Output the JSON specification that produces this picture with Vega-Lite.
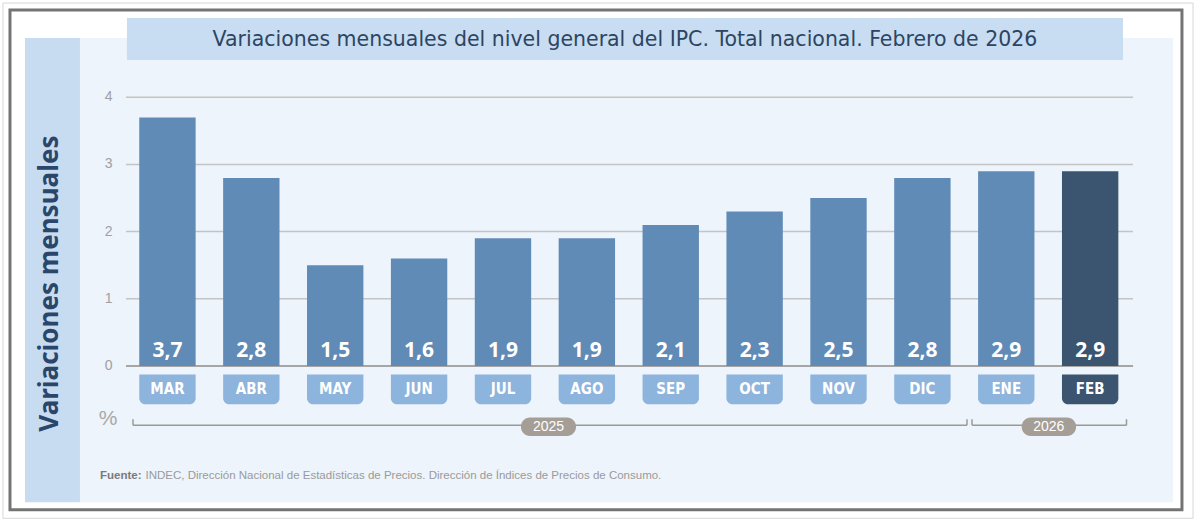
{
  "$schema": "https://vega.github.io/schema/vega-lite/v6.json",
  "description": "Variaciones mensuales del IPC, total nacional, marzo 2025 - febrero 2026",
  "width": 1200,
  "height": 526,
  "autosize": "none",
  "padding": 0,
  "background": "white",
  "resolve": {"scale": {"x": "independent"}},
  "layer": [
    {
      "data": {"values": [{}]},
      "layer": [
        {
          "mark": {"type": "rect", "fill": "white", "stroke": "#D6D6D6", "strokeWidth": 1},
          "encoding": {
            "x": {"datum": -1.9607, "type": "quantitative", "scale": {"domain": [-1.996, 12.306], "nice": false, "zero": false}, "axis": null},
            "x2": {"datum": 12.223},
            "y": {"datum": 5.405, "type": "quantitative", "scale": {"domain": [-2.385, 5.45], "nice": false, "zero": false}, "axis": null},
            "y2": {"datum": -2.27}
          }
        },
        {
          "mark": {"type": "rect", "fill": "white", "stroke": "#747474", "strokeWidth": 3},
          "encoding": {
            "x": {"datum": -1.877, "type": "quantitative"},
            "x2": {"datum": 12.091},
            "y": {"datum": 5.301, "type": "quantitative"},
            "y2": {"datum": -2.143}
          }
        },
        {
          "mark": {"type": "rect", "fill": "#EDF4FB"},
          "encoding": {
            "x": {"datum": -1.043, "type": "quantitative"},
            "x2": {"datum": 11.985},
            "y": {"datum": 4.884, "type": "quantitative"},
            "y2": {"datum": -2.031}
          }
        },
        {
          "mark": {"type": "rect", "fill": "#C7DCF0"},
          "encoding": {
            "x": {"datum": -1.698, "type": "quantitative"},
            "x2": {"datum": -1.043},
            "y": {"datum": 4.884, "type": "quantitative"},
            "y2": {"datum": -2.031}
          }
        },
        {
          "mark": {"type": "rect", "fill": "#C8DDF1"},
          "encoding": {
            "x": {"datum": -0.483, "type": "quantitative"},
            "x2": {"datum": 11.388},
            "y": {"datum": 5.182, "type": "quantitative"},
            "y2": {"datum": 4.556}
          }
        },
        {
          "mark": {"type": "text", "text": "Variaciones mensuales del nivel general del IPC. Total nacional. Febrero de 2026", "font": "DejaVu Sans", "fontSize": 20.5, "color": "#2D4563", "align": "center", "baseline": "middle"},
          "encoding": {
            "x": {"datum": 5.453, "type": "quantitative"},
            "y": {"datum": 4.861, "type": "quantitative"}
          }
        },
        {
          "mark": {"type": "text", "text": "Variaciones mensuales", "angle": 270, "font": "Noto Sans", "fontWeight": "bold", "fontSize": 26, "color": "#2A466A", "align": "center", "baseline": "middle"},
          "encoding": {
            "x": {"datum": -1.4, "type": "quantitative"},
            "y": {"datum": 1.225, "type": "quantitative"}
          }
        },
        {
          "data": {"values": [{"tick": 0}, {"tick": 1}, {"tick": 2}, {"tick": 3}, {"tick": 4}]},
          "mark": {"type": "rule", "stroke": "#C4C4C4", "strokeWidth": 1.5},
          "encoding": {
            "x": {"datum": -0.4946, "type": "quantitative"},
            "x2": {"datum": 11.508},
            "y": {"field": "tick", "type": "quantitative"}
          }
        },
        {
          "data": {"values": [{"tick": 0}, {"tick": 1}, {"tick": 2}, {"tick": 3}, {"tick": 4}]},
          "mark": {"type": "text", "font": "Liberation Sans", "fontSize": 14, "color": "#A0A0A0", "align": "right", "baseline": "middle"},
          "encoding": {
            "x": {"datum": -0.6555, "type": "quantitative"},
            "y": {"field": "tick", "type": "quantitative"},
            "text": {"field": "tick", "type": "quantitative"}
          }
        },
        {
          "mark": {"type": "rule", "stroke": "#A6A6A6", "strokeWidth": 2},
          "encoding": {
            "x": {"datum": -0.4946, "type": "quantitative"},
            "x2": {"datum": 11.508},
            "y": {"datum": 0, "type": "quantitative"}
          }
        },
        {
          "mark": {"type": "text", "text": "%", "font": "Liberation Sans", "fontSize": 21, "color": "#A8A8A8", "align": "center", "baseline": "middle"},
          "encoding": {
            "x": {"datum": -0.709, "type": "quantitative"},
            "y": {"datum": -0.794, "type": "quantitative"}
          }
        },
        {
          "mark": {"type": "rule", "stroke": "#9A9A9A", "strokeWidth": 1.5},
          "encoding": {
            "x": {"datum": -0.411, "type": "quantitative"},
            "x2": {"datum": 9.529},
            "y": {"datum": -0.884, "type": "quantitative"}
          }
        },
        {
          "mark": {"type": "rule", "stroke": "#9A9A9A", "strokeWidth": 1.5},
          "encoding": {
            "x": {"datum": -0.411, "type": "quantitative"},
            "y": {"datum": -0.884, "type": "quantitative"},
            "y2": {"datum": -0.794}
          }
        },
        {
          "mark": {"type": "rule", "stroke": "#9A9A9A", "strokeWidth": 1.5},
          "encoding": {
            "x": {"datum": 9.529, "type": "quantitative"},
            "y": {"datum": -0.884, "type": "quantitative"},
            "y2": {"datum": -0.794}
          }
        },
        {
          "mark": {"type": "rule", "stroke": "#9A9A9A", "strokeWidth": 1.5},
          "encoding": {
            "x": {"datum": 9.589, "type": "quantitative"},
            "x2": {"datum": 11.43},
            "y": {"datum": -0.884, "type": "quantitative"}
          }
        },
        {
          "mark": {"type": "rule", "stroke": "#9A9A9A", "strokeWidth": 1.5},
          "encoding": {
            "x": {"datum": 9.589, "type": "quantitative"},
            "y": {"datum": -0.884, "type": "quantitative"},
            "y2": {"datum": -0.794}
          }
        },
        {
          "mark": {"type": "rule", "stroke": "#9A9A9A", "strokeWidth": 1.5},
          "encoding": {
            "x": {"datum": 11.43, "type": "quantitative"},
            "y": {"datum": -0.884, "type": "quantitative"},
            "y2": {"datum": -0.794}
          }
        },
        {
          "mark": {"type": "rect", "fill": "#A59E97", "cornerRadius": 9},
          "encoding": {
            "x": {"datum": 4.213, "type": "quantitative"},
            "x2": {"datum": 4.869},
            "y": {"datum": -0.769, "type": "quantitative"},
            "y2": {"datum": -1.043}
          }
        },
        {
          "mark": {"type": "rect", "fill": "#A59E97", "cornerRadius": 9},
          "encoding": {
            "x": {"datum": 10.181, "type": "quantitative"},
            "x2": {"datum": 10.829},
            "y": {"datum": -0.769, "type": "quantitative"},
            "y2": {"datum": -1.043}
          }
        },
        {
          "mark": {"type": "text", "text": "2025", "font": "Liberation Sans", "fontSize": 14, "color": "white", "align": "center", "baseline": "middle"},
          "encoding": {
            "x": {"datum": 4.541, "type": "quantitative"},
            "y": {"datum": -0.906, "type": "quantitative"}
          }
        },
        {
          "mark": {"type": "text", "text": "2026", "font": "Liberation Sans", "fontSize": 14, "color": "white", "align": "center", "baseline": "middle"},
          "encoding": {
            "x": {"datum": 10.504, "type": "quantitative"},
            "y": {"datum": -0.906, "type": "quantitative"}
          }
        },
        {
          "mark": {"type": "text", "text": "Fuente:", "font": "Liberation Sans", "fontWeight": "bold", "fontSize": 11.5, "color": "#7A7A7A", "align": "left", "baseline": "middle"},
          "encoding": {
            "x": {"datum": -0.8045, "type": "quantitative"},
            "y": {"datum": -1.645, "type": "quantitative"}
          }
        },
        {
          "mark": {"type": "text", "text": "INDEC, Dirección Nacional de Estadísticas de Precios. Dirección de Índices de Precios de Consumo.", "font": "Liberation Sans", "fontSize": 11.5, "color": "#9A9A9A", "align": "left", "baseline": "middle"},
          "encoding": {
            "x": {"datum": -0.262, "type": "quantitative"},
            "y": {"datum": -1.645, "type": "quantitative"}
          }
        }
      ]
    },
    {
      "data": {
        "values": [
          {"mes": "MAR", "valor": 3.7},
          {"mes": "ABR", "valor": 2.8},
          {"mes": "MAY", "valor": 1.5},
          {"mes": "JUN", "valor": 1.6},
          {"mes": "JUL", "valor": 1.9},
          {"mes": "AGO", "valor": 1.9},
          {"mes": "SEP", "valor": 2.1},
          {"mes": "OCT", "valor": 2.3},
          {"mes": "NOV", "valor": 2.5},
          {"mes": "DIC", "valor": 2.8},
          {"mes": "ENE", "valor": 2.9},
          {"mes": "FEB", "valor": 2.9}
        ]
      },
      "layer": [
        {
          "mark": {"type": "bar"},
          "encoding": {
            "x": {"field": "mes", "type": "ordinal", "sort": null, "axis": null, "scale": {"range": [125.5, 1132.1], "paddingInner": 0.328, "paddingOuter": 0.164, "align": 0.5}},
            "y": {"field": "valor", "type": "quantitative"},
            "y2": {"datum": 0},
            "color": {"condition": {"test": "datum.mes === 'FEB'", "value": "#3B5470"}, "value": "#5F8BB6"}
          }
        },
        {
          "mark": {"type": "text", "font": "Noto Sans", "fontWeight": "bold", "fontSize": 21, "color": "white", "align": "center", "baseline": "middle", "dy": -15},
          "encoding": {
            "x": {"field": "mes", "type": "ordinal", "sort": null},
            "y": {"datum": 0, "type": "quantitative"},
            "text": {"field": "valor", "type": "quantitative", "format": ".1f"}
          }
        },
        {
          "mark": {"type": "rect", "cornerRadiusBottomLeft": 6, "cornerRadiusBottomRight": 6},
          "encoding": {
            "x": {"field": "mes", "type": "ordinal", "sort": null},
            "y": {"datum": -0.128, "type": "quantitative"},
            "y2": {"datum": -0.571},
            "color": {"condition": {"test": "datum.mes === 'FEB'", "value": "#3B5470"}, "value": "#8DB4DD"}
          }
        },
        {
          "mark": {"type": "text", "font": "DejaVu Sans Condensed, Liberation Sans", "fontWeight": "bold", "fontSize": 15, "color": "white", "align": "center", "baseline": "middle"},
          "encoding": {
            "x": {"field": "mes", "type": "ordinal", "sort": null},
            "y": {"datum": -0.35, "type": "quantitative"},
            "text": {"field": "mes", "type": "nominal"}
          }
        }
      ]
    }
  ],
  "config": {
    "view": {"stroke": null},
    "axis": {"disable": true},
    "legend": {"disable": true},
    "locale": {"number": {"decimal": ",", "thousands": ".", "grouping": [3], "currency": ["$", ""]}}
  }
}
